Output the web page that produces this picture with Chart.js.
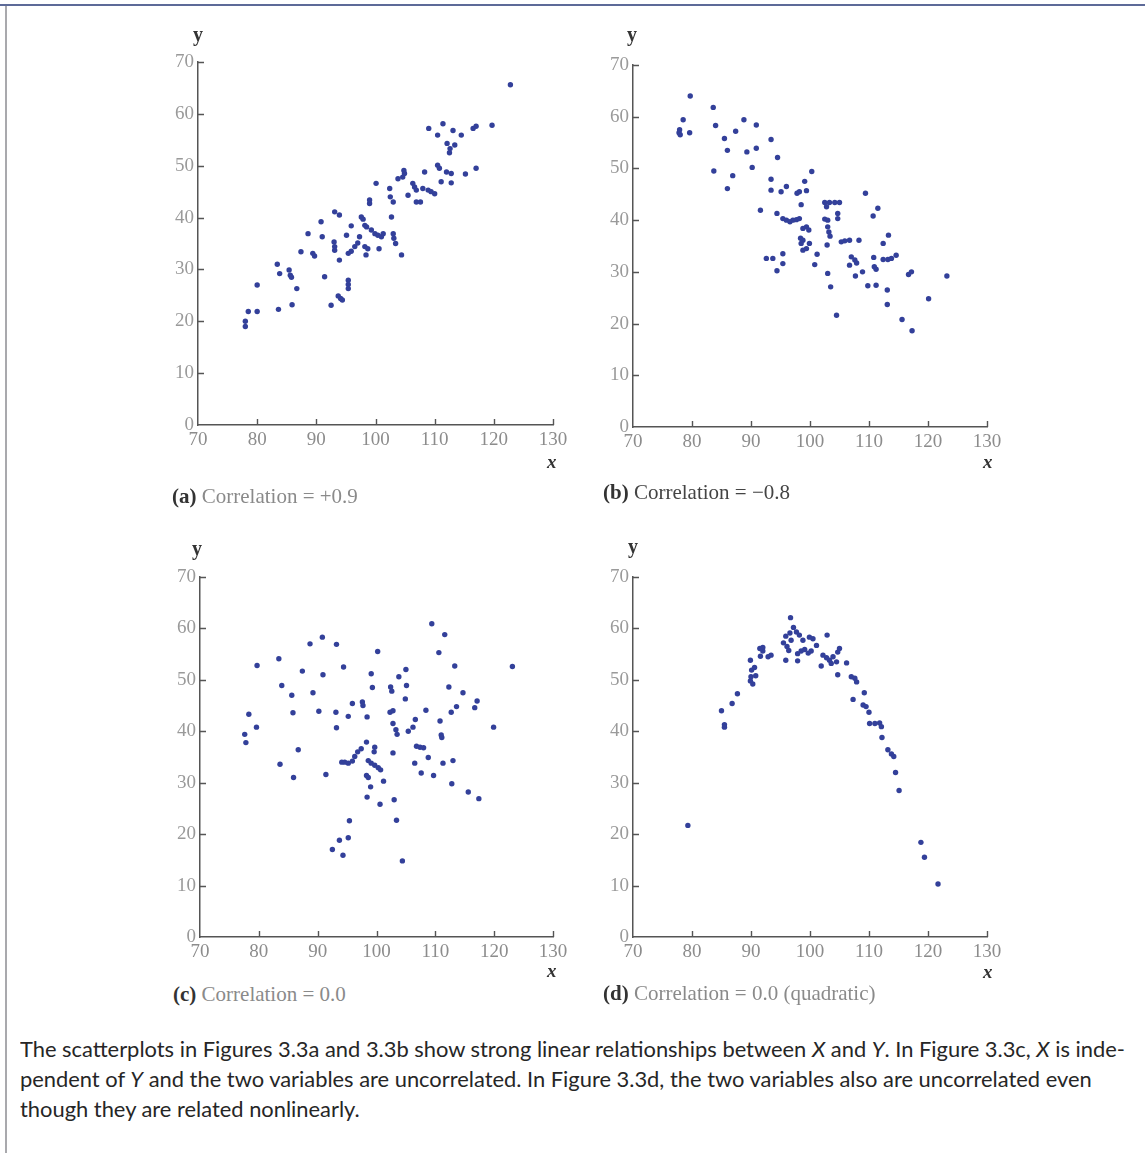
<!DOCTYPE html>
<html>
<head>
<meta charset="utf-8">
<script src="https://cdn.jsdelivr.net/npm/chart.js@4.4.1/dist/chart.umd.min.js"></script>
<style>
  html, body { margin:0; padding:0; background:#fff; }
  body { width:1145px; height:1153px; position:relative; overflow:hidden; }
  .topline { position:absolute; left:0; top:4px; width:1145px; height:2px; background:#5d6a98; }
  .leftline { position:absolute; left:5px; top:6px; width:2px; height:1147px; background:#a9a9ad; }
  canvas.pc { position:absolute; }
  .ylab { position:absolute; font-family:"Liberation Serif", serif; font-weight:bold; font-size:20px; color:#333; line-height:1; }
  .xlab { position:absolute; font-family:"Liberation Serif", serif; font-weight:bold; font-style:italic; font-size:19px; color:#333; line-height:1; }
  .cap { position:absolute; font-family:"Liberation Serif", serif; font-size:21px; line-height:1; color:#8a8a8a; white-space:nowrap; }
  .cap b { color:#333; }
  .para { position:absolute; left:20px; font-family:"Lato", sans-serif; font-size:21px; color:#262626; white-space:nowrap; line-height:1; transform-origin:0 0; }
</style>
</head>
<body>
<div class="topline"></div>
<div class="leftline"></div>

<canvas id="ca" class="pc"></canvas>
<canvas id="cb" class="pc"></canvas>
<canvas id="cc" class="pc"></canvas>
<canvas id="cd" class="pc"></canvas>

<div class="ylab" style="left:193px;top:24px;">y</div>
<div class="ylab" style="left:627px;top:24px;">y</div>
<div class="ylab" style="left:192px;top:538px;">y</div>
<div class="ylab" style="left:628px;top:536px;">y</div>

<div class="xlab" style="left:547px;top:452px;">x</div>
<div class="xlab" style="left:983px;top:452px;">x</div>
<div class="xlab" style="left:547px;top:961px;">x</div>
<div class="xlab" style="left:983px;top:962px;">x</div>

<div class="cap" style="left:172px;top:486px;"><b>(a)</b> Correlation = +0.9</div>
<div class="cap" style="left:603px;top:482px;color:#444;"><b>(b)</b> Correlation = &minus;0.8</div>
<div class="cap" style="left:173px;top:984px;"><b>(c)</b> Correlation = 0.0</div>
<div class="cap" style="left:603px;top:983px;"><b>(d)</b> Correlation = 0.0 (quadratic)</div>

<div class="para" id="p1" style="top:1038px;">The scatterplots in Figures 3.3a and 3.3b show strong linear relationships between <i>X</i> and <i>Y</i>. In Figure 3.3c, <i>X</i> is inde-</div>
<div class="para" id="p2" style="top:1068px;">pendent of <i>Y</i> and the two variables are uncorrelated. In Figure 3.3d, the two variables also are uncorrelated even</div>
<div class="para" id="p3" style="top:1098px;">though they are related nonlinearly.</div>

<script>
// ---------------- data ----------------
const xTickValues = [70, 80, 90, 100, 110, 120, 130];
const yTickValues = [0, 10, 20, 30, 40, 50, 60, 70];

// (a) correlation +0.9
const aX = [78,78,78.5,80,80,83.4,83.8,83.6,85.4,85.6,85.8,85.9,86.7,87.4,88.6,89.4,89.7,90.8,91,91.4,92.5,93.1,93.9,93,93.1,93.1,93.9,93.7,94.1,94.4,95.1,95.9,95.4,95.4,95.4,95.4,95.9,96.5,97,97.6,97.9,97.3,98.2,98.5,98.2,98.7,98.4,99,99,99.3,99.9,100.4,101,101.3,100.1,100.6,102.4,102.5,103,102.7,103,103.1,103.4,104.4,103.8,104.6,104.8,104.9,105.5,106.3,106.6,106.9,106.9,107.6,108,108.9,109.4,110,108.3,109,110.5,110.5,110.8,111.4,111.1,112.8,112,112.8,112.1,112.6,113.4,112.5,113.1,114.5,115.2,116.5,117,117,119.7,122.8];
const aY = [20,19,21.9,21.9,27,31,29.2,22.3,29.9,28.9,28.5,23.2,26.3,33.4,36.9,33.1,32.6,39.2,36.3,28.6,23.1,41.1,40.5,35.3,34.4,33.7,31.8,24.9,24.4,24.1,36.6,38.4,27.9,27.1,26.3,33.1,33.5,34.4,35.1,40.1,39.7,36.3,38.5,38.2,34.4,34,32.8,42.7,43.4,37.6,36.9,36.6,36.3,36.9,46.6,34,45.6,44,43,40.1,36.9,36,35,32.8,47.5,47.8,49.1,48.5,44.3,46.6,45.9,45.3,43,43,45.6,45.3,45,44.6,48.8,57.2,55.9,50.1,49.5,58.1,46.9,46.7,48.8,48.5,54.3,53.3,54,52.5,56.8,55.9,48.4,57.2,57.6,49.5,57.8,65.6];

// (b) correlation -0.8
const bX = [77.9,77.8,78,78.5,79.6,79.7,83.6,84,83.7,85.5,86,86,86.9,87.4,88.8,89.3,90.2,90.9,90.9,91.6,93.4,93.4,93.4,92.6,93.7,94.5,94.4,94.4,95.4,95.4,95.1,96,95.4,96,96.6,97.1,97.7,98.2,97.8,98.2,99.4,98.5,99.1,100.3,98.8,99.4,99.8,98.4,98.8,98.5,98.8,99.4,99.9,100.8,101.2,102.5,103.3,104.2,105,102.8,102.5,103,103,103.2,103.4,102.9,104.7,104.7,103,103.5,104.5,105.3,105.9,106.7,108.3,107,107.6,107.9,106.7,107.7,108.9,109.4,109.8,110.7,111.5,110.8,110.9,111.2,111.2,112.4,113.3,112.4,113.2,113.8,114.6,113.1,113.1,115.6,116.7,117.2,117.3,120.1,123.2];
const bY = [57.5,56.9,56.5,59.4,56.9,64,61.8,58.3,49.5,55.8,53.5,46.1,48.6,57.2,59.4,53.2,50.2,58.4,53.9,41.9,55.6,47.9,45.8,32.6,32.6,52.1,41.3,30.2,33.5,31.6,45.5,46.5,40.3,40,39.7,40,40.1,40.3,45.2,45.5,45.7,43,47.5,49.4,38.4,38.7,38.1,36.5,36.1,35.5,34.2,34.5,35.5,31.4,33.4,43.4,43.4,43.4,43.4,42.6,40.2,40,38.7,37.7,36.9,35.2,41.3,40.3,29.7,27.1,21.6,35.8,36,36.1,36.1,32.9,32.3,31.7,31.3,29.2,30,45.2,27.3,40.8,42.3,32.8,31,30.5,27.4,35.5,37.1,32.4,32.4,32.6,33.2,26.5,23.7,20.8,29.5,30,18.6,24.8,29.2];

// (c) correlation 0.0
const cX = [77.6,77.8,78.3,79.6,79.7,83.4,83.6,83.9,85.6,85.8,85.9,86.7,87.4,88.7,89.2,90.8,90.9,90.2,91.4,93.2,93.1,93.2,92.5,93.7,94.3,94.4,94.1,94.6,95.2,95.9,95.4,95.2,95.2,95.9,96.3,96.8,97.4,97.6,97.7,98.3,98.4,99.1,99.3,99.7,99.6,98.6,99.1,99.7,100.3,100.7,98.3,98.6,99,98.4,100.2,100.6,101.2,102.3,102.8,102.4,102.6,102.8,103.3,103.5,102.8,103,103.4,103.8,104.4,105,105.1,104.9,105.4,106.2,106.6,106.5,106.8,107.4,108,107.6,108.4,108.8,109.7,109.4,110.6,110.8,111,111.1,111.3,111.6,112.3,112.8,112.7,113,113.3,113.6,114.7,115.6,116.7,117.1,117.4,119.9,123.1];
const cY = [39.4,37.8,43.3,40.8,52.8,54.1,33.6,48.9,47,43.6,31,36.4,51.7,57,47.5,58.3,51,43.9,31.6,56.9,43.7,40.7,17,18.8,15.9,52.5,34,34,33.8,34.2,22.6,19.3,42.9,45.4,35.1,36,36.6,45.7,45,37.9,42.8,51.2,48.5,36.9,36,34.3,33.8,33.4,32.9,32.5,31.4,31,29.2,27.2,55.5,25.8,30.3,43.7,44,48.6,47.8,41.5,40.3,39.4,35.8,26.7,22.7,50.6,14.8,52,48.9,46.3,40,40.8,42.3,33.8,37.1,36.9,36.8,31.9,44.1,34.9,31.4,60.9,55.3,42,39.3,38.8,33.8,58.8,48.6,29.8,43.7,34.3,52.7,44.8,47.5,28.2,44.6,45.9,26.9,40.8,52.6];

// (d) correlation 0.0 (quadratic)
const dX = [79.3,85,85.5,85.5,86.8,87.7,89.9,90.1,90,89.9,90.3,90.6,90.8,91.6,92,92,91.5,93.4,92.9,95.5,95.9,96.6,96.8,96.1,96.4,95.9,96.7,97.2,97.7,98.2,98.8,97.9,98.5,99.1,99.7,100.2,97.9,99.9,100.5,101.1,101.9,102.2,102.8,103.3,103.9,104.5,103.6,102.9,104.7,105,104.7,106.2,107,107.6,107.9,107.3,109.2,109,109.5,110,110.1,111,111.8,112.1,112.2,113.2,113.8,114.2,114.5,115.1,118.8,119.4,121.7];
const dY = [21.7,44,41.3,40.8,45.4,47.3,53.8,51.9,50.6,49.8,49.2,52.4,50.8,54.6,55.6,56.3,56.1,54.8,54.5,57.2,58.5,59.1,57.7,56.5,55.7,53.8,62.1,60.2,59.3,58.7,57.7,55.1,55.6,55.9,55.2,55.6,53.7,58.3,58,56.7,52.7,54.8,54.3,53.8,54.5,53.5,53.2,58.7,55.4,56.1,51,53.3,50.6,50.3,49.6,46.2,47.5,45.1,44.8,43.7,41.5,41.5,41.6,40.9,38.8,36.4,35.6,35.1,32,28.5,18.4,15.5,10.3];

// ---------------- drawing ----------------
const PAD_L = 60, PAD_T = 30, PAD_R = 25, PAD_B = 36;
const panels = [
  { id:'ca', xs:aX, ys:aY, area:{left:198, top:62, right:553, bottom:425} },
  { id:'cb', xs:bX, ys:bY, area:{left:633, top:65, right:987, bottom:427} },
  { id:'cc', xs:cX, ys:cY, area:{left:200, top:577, right:553, bottom:937} },
  { id:'cd', xs:dX, ys:dY, area:{left:633, top:577, right:987, bottom:937} }
];

const inwardTicks = {
  id: 'inwardTicks',
  afterDraw(chart) {
    const ctx = chart.ctx, xs = chart.scales.x, ys = chart.scales.y;
    const ca = chart.chartArea;
    ctx.save();
    ctx.strokeStyle = '#555';
    ctx.lineWidth = 1.4;
    ctx.beginPath();
    xTickValues.forEach(v => {
      if (v === xTickValues[0]) return;
      const px = Math.round(xs.getPixelForValue(v)) + 0.5;
      ctx.moveTo(px, ca.bottom); ctx.lineTo(px, ca.bottom - 6);
    });
    yTickValues.forEach(v => {
      if (v === yTickValues[0]) return;
      const py = Math.round(ys.getPixelForValue(v)) + 0.5;
      ctx.moveTo(ca.left, py); ctx.lineTo(ca.left + 6, py);
    });
    ctx.stroke();
    ctx.restore();
  }
};

const tickFont = { family: '"Liberation Serif", serif', size: 19 };

panels.forEach(p => {
  const cv = document.getElementById(p.id);
  const w = (p.area.right - p.area.left) + PAD_L + PAD_R;
  const h = (p.area.bottom - p.area.top) + PAD_T + PAD_B;
  cv.width = w; cv.height = h;
  cv.style.left = (p.area.left - PAD_L) + 'px';
  cv.style.top = (p.area.top - PAD_T) + 'px';
  cv.style.width = w + 'px'; cv.style.height = h + 'px';
  const pts = p.xs.map((x, i) => ({ x: x, y: p.ys[i] }));
  new Chart(cv, {
    type: 'scatter',
    data: { datasets: [{ data: pts, backgroundColor: '#33409a', borderColor: '#33409a', pointRadius: 2.7, pointBorderWidth: 0 }] },
    options: {
      responsive: false, animation: false, devicePixelRatio: 1,
      layout: { padding: { left: 0, top: PAD_T, right: PAD_R, bottom: 0 } },
      plugins: { legend: { display: false }, tooltip: { enabled: false } },
      scales: {
        x: {
          type: 'linear', min: xTickValues[0], max: xTickValues[xTickValues.length - 1],
          afterBuildTicks: s => { s.ticks = xTickValues.map(v => ({ value: v })); },
          ticks: { color: '#8c8c8c', font: tickFont, padding: 4, maxRotation: 0, autoSkip: false },
          grid: { display: false, drawTicks: false },
          border: { display: true, color: '#555', width: 1.5 },
          afterFit: s => { s.height = PAD_B; }
        },
        y: {
          type: 'linear', min: yTickValues[0], max: yTickValues[yTickValues.length - 1],
          afterBuildTicks: s => { s.ticks = yTickValues.map(v => ({ value: v })); },
          ticks: { color: '#9a9a9a', font: tickFont, padding: 4, autoSkip: false },
          grid: { display: false, drawTicks: false },
          border: { display: true, color: '#555', width: 1.5 },
          afterFit: s => { s.width = PAD_L; }
        }
      }
    },
    plugins: [inwardTicks]
  });
});

// condense paragraph to match reference width
const p1 = document.getElementById('p1');
const sc = 1105 / p1.getBoundingClientRect().width;
['p1','p2','p3'].forEach(id => { document.getElementById(id).style.transform = 'scaleX(' + sc + ')'; });
</script>
</body>
</html>
